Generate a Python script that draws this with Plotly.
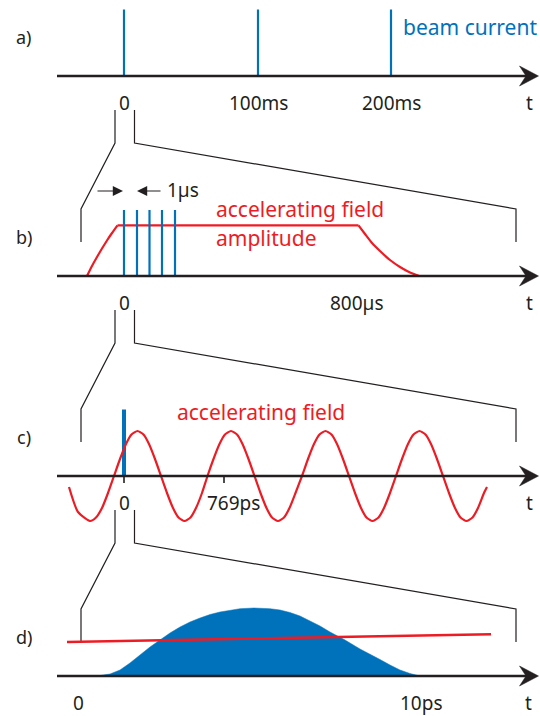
import plotly.graph_objects as go

W, H = 540, 716
INK = '#231f20'
BLUE = '#0072bc'
RED = '#ed1c24'
FONT = 'Noto Sans'

# ---- layout of the diagram (diagram units = pixels) ----
baselines = [76, 276, 476, 676]          # time-axis height of panels a-d
panel_labels = ['a)', 'b)', 'c)', 'd)']
panel_label_x = 24
panel_label_dy = -39
axis_x0 = 57
arrow_head_x = [538.5, 519.5, 526, 519.5, 538.5]
arrow_head_dy = [0, -10, 0, 10, 0]

# tick labels under each axis
tick_labels = [['0', '100ms', '200ms', 't'],
               ['0', '800µs', 't'],
               ['0', '769ps', 't'],
               ['0', '10ps', 't']]
tick_label_x = [[124, 258, 391, 529],
                [124, 357, 529],
                [124, 233, 529],
                [78, 421, 528]]
tick_label_dy = 27

# a) beam current pulses
a_pulse_x = [124, 258, 391]
a_pulse_h = 66.5

# b) bunch train and field amplitude (rise, flat top, decay)
b_pulse_x = [124, 137, 149.5, 162, 175]
b_pulse_h = 66
b_rise_x = [87, 92, 97, 102, 107, 112, 117.5]
b_rise_h = [0, 10, 19, 27.5, 35.5, 43, 50.7]
b_flat_x = [117.5, 358.5]
b_flat_h = [50.7, 50.7]
b_fall_x = [358.5, 365, 372, 380, 390, 400, 410, 419.3]
b_fall_h = [50.7, 42, 33, 25, 16, 9, 3.5, 0]

# c) single bunch and rf field (one period, ~94 px long)
c_bunch_x = 124
c_bunch_h = 66.5
c_tick_x = [124, 224]
c_field_start_x = [69, 78, 90, 96, 102, 108]
c_field_start_h = [-11, -36, -45, -41.5, -32, -17]
c_field_period_dx = [0, 6, 12, 17.5, 23.5, 29.5, 35, 41, 47, 53, 59, 64.5, 70.5, 76.5, 82, 88]
c_field_period_h = [0, 17, 32, 41.5, 45, 41.5, 32, 17, 0, -17, -32, -41.5, -45, -41.5, -32, -17]
c_field_zero_x = [114, 207.5, 302, 396]   # upward zero crossings
c_field_end_x = 487
c_field_end_h = -11

# d) bunch profile and field
d_bunch_x = [97, 110, 120, 130, 140, 150, 160, 170, 180, 190, 200, 210, 220, 230, 240, 254,
             270, 280, 290, 300, 310, 320, 330, 345, 360, 370, 380, 390, 400, 410, 420]
d_bunch_h = [0, 2, 6, 13, 21, 29, 36, 43, 49, 54, 58, 61.5, 64, 66, 67.3, 68,
             67.3, 66, 63.5, 60, 55, 50, 44, 36, 27, 22, 16.5, 11, 6, 2.5, 0]
d_field_x = [67, 491]
d_field_h = [34, 41.7]

# zoom brackets between panels
bracket_top = [110, 310, 510]
bracket_left_x = [115, 115, 81, 81]
bracket_right_x = [134.5, 134.5, 516, 516]
bracket_dy = [0, 33, 99, 132]

fig = go.Figure()


def line(xs, ys, color, width, **kw):
    fig.add_trace(go.Scatter(x=xs, y=ys, mode='lines', hoverinfo='skip',
                             line=dict(color=color, width=width, **kw)))


def vlines(xs, base, h, color, width):
    X, Y = [], []
    for x in xs:
        X += [x, x, None]
        Y += [base, base - h, None]
    line(X, Y, color, width)


# brackets
for t in bracket_top:
    line(bracket_left_x, [t + d for d in bracket_dy], INK, 1.2)
    line(bracket_right_x, [t + d for d in bracket_dy], INK, 1.2)

# panel a
vlines(a_pulse_x, baselines[0], a_pulse_h, BLUE, 2.2)

# panel b
line(b_rise_x, [baselines[1] - h for h in b_rise_h], RED, 2.2, shape='spline', smoothing=0.6)
line(b_flat_x, [baselines[1] - h for h in b_flat_h], RED, 2.2)
line(b_fall_x, [baselines[1] - h for h in b_fall_h], RED, 2.2, shape='spline', smoothing=0.6)
vlines(b_pulse_x, baselines[1], b_pulse_h, BLUE, 2.2)

# panel c
vlines([c_bunch_x], baselines[2], c_bunch_h, BLUE, 4)
cx = list(c_field_start_x)
ch = list(c_field_start_h)
for z in c_field_zero_x:
    for d, h in zip(c_field_period_dx, c_field_period_h):
        if z + d < c_field_end_x - 1:
            cx.append(z + d)
            ch.append(h)
cx.append(c_field_end_x)
ch.append(c_field_end_h)
line(cx, [baselines[2] - h for h in ch], RED, 2.2, shape='spline', smoothing=0.6)
X, Y = [], []
for x in c_tick_x:
    X += [x, x, None]
    Y += [baselines[2], baselines[2] + 7, None]
line(X, Y, INK, 1.6)

# panel d
fig.add_trace(go.Scatter(x=d_bunch_x, y=[baselines[3] - h for h in d_bunch_h],
                         mode='lines', fill='toself', fillcolor=BLUE, hoverinfo='skip',
                         line=dict(color=BLUE, width=0.5)))
line(d_field_x, [baselines[3] - h for h in d_field_h], RED, 2.5)

# time axes with arrow heads
for b in baselines:
    line([axis_x0, 527], [b, b], INK, 2.6)
    fig.add_trace(go.Scatter(x=arrow_head_x, y=[b + d for d in arrow_head_dy],
                             mode='lines', fill='toself', fillcolor=INK, hoverinfo='skip',
                             line=dict(color=INK, width=0.5)))

ann = []


def text(x, y, s, color=INK, size=19, xanchor='center'):
    ann.append(dict(x=x, y=y, text=s, showarrow=False, xanchor=xanchor, yanchor='middle',
                    font=dict(family=FONT, size=size, color=color)))


for lab, b in zip(panel_labels, baselines):
    text(panel_label_x, b + panel_label_dy, lab, size=18)
for labs, xs, b in zip(tick_labels, tick_label_x, baselines):
    for s, x in zip(labs, xs):
        text(x, b + tick_label_dy, s)

text(401, 27, 'beam current', BLUE, 21, 'left')
text(214, 209, 'accelerating field', RED, 21, 'left')
text(214, 238, 'amplitude', RED, 21, 'left')
text(175, 412, 'accelerating field', RED, 21, 'left')
text(165, 190, '1µs', INK, 19, 'left')

# 1 µs arrows
for head, tail in [(123, 96), (137, 162)]:
    ann.append(dict(x=head, y=191, ax=tail, ay=191, axref='x', ayref='y', xref='x', yref='y',
                    text='', showarrow=True, arrowhead=2, arrowsize=1.7, arrowwidth=1.2,
                    arrowcolor=INK, standoff=0, startstandoff=0))

fig.update_layout(
    width=W, height=H, margin=dict(l=0, r=0, t=0, b=0),
    paper_bgcolor='white', plot_bgcolor='white', showlegend=False,
    xaxis=dict(range=[0, W], visible=False, fixedrange=True),
    yaxis=dict(range=[H, 0], visible=False, fixedrange=True),
    annotations=ann,
)

fig.write_html('out.html', config={'displayModeBar': False},
               post_script="document.body.style.margin='0';document.body.style.overflow='hidden';")
